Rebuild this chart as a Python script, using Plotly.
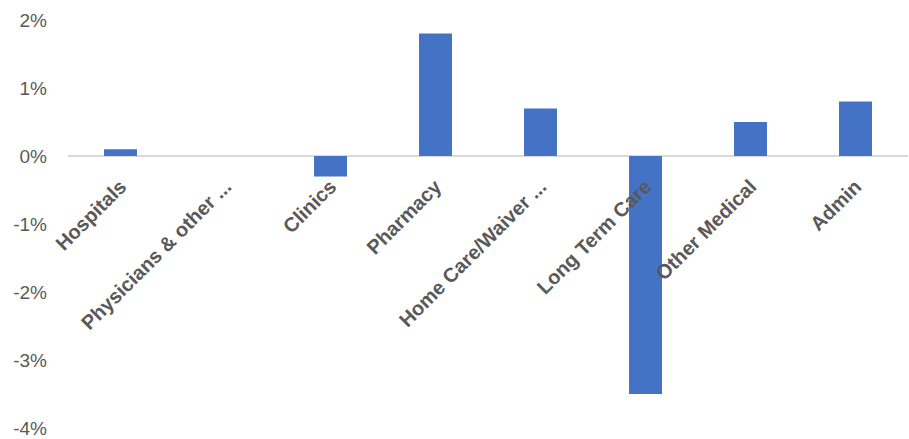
import plotly.graph_objects as go

categories = ["Hospitals", "Physicians & other ...", "Clinics", "Pharmacy",
              "Home Care/Waiver ...", "Long Term Care", "Other Medical", "Admin"]
values = [0.1, 0.0, -0.3, 1.8, 0.7, -3.5, 0.5, 0.8]
y_tick_vals = [2, 1, 0, -1, -2, -3, -4]
y_tick_text = ["2%", "1%", "0%", "-1%", "-2%", "-3%", "-4%"]

y_min, y_max = -4, 2
zero_pos = (0 - y_min) / (y_max - y_min)

fig = go.Figure()
fig.add_trace(go.Bar(
    x=categories, y=values,
    marker=dict(color="#4472C4", line=dict(width=0)),
    hoverinfo="skip",
))

fig.update_layout(
    width=909, height=439,
    margin=dict(l=68, r=1, t=20, b=11),
    paper_bgcolor="white", plot_bgcolor="white",
    bargap=0.686,
    showlegend=False,
    font=dict(family="Liberation Sans", color="#595959"),
    xaxis=dict(
        anchor="free", position=zero_pos,
        showline=False, showgrid=False, zeroline=False,
        ticks="", tickangle=-45,
        tickfont=dict(family="Liberation Sans", size=20, color="#595959", weight="bold"),
        ticklabelstandoff=14,
    ),
    yaxis=dict(
        range=[y_min, y_max],
        tickvals=y_tick_vals, ticktext=y_tick_text,
        showgrid=False, showline=False, ticks="",
        zeroline=True, zerolinecolor="#d9d9d9", zerolinewidth=1.5,
        tickfont=dict(family="Liberation Sans", size=19, color="#595959"),
        ticklabelstandoff=20,
    ),
)

fig.write_html("out.html")
